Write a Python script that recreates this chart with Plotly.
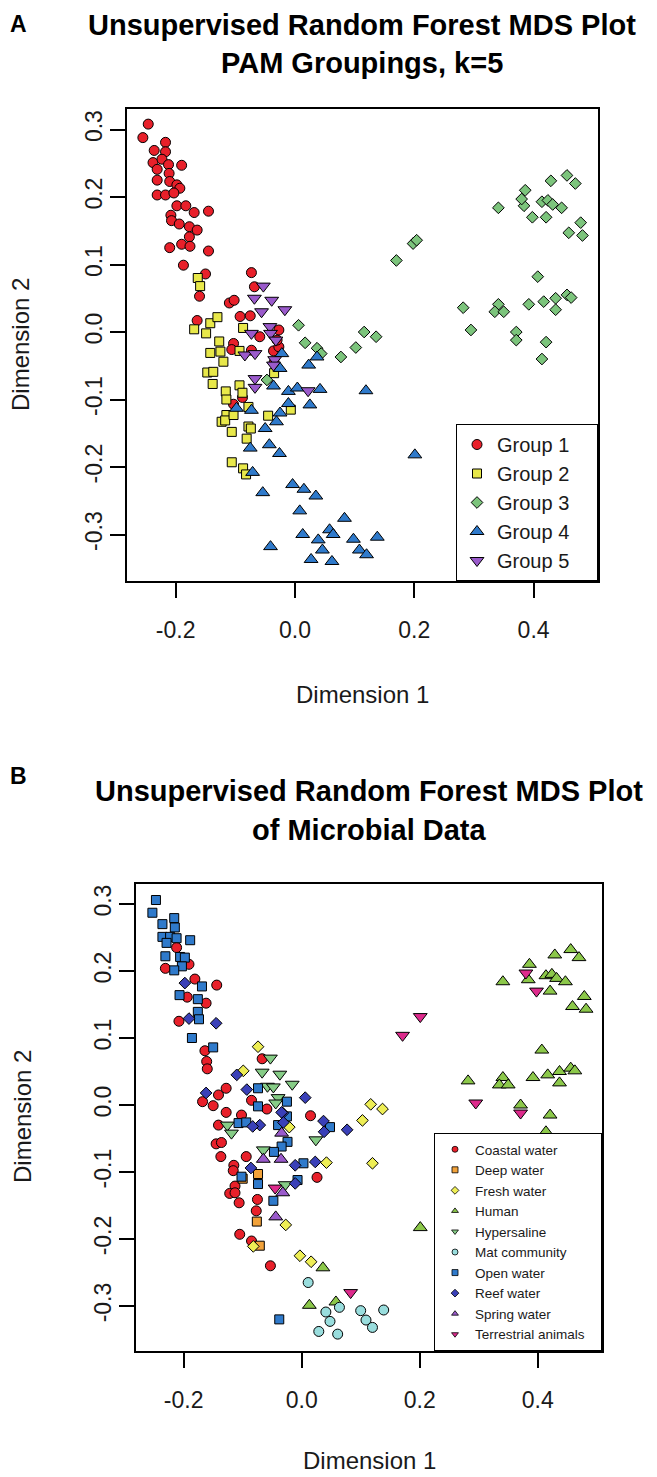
import plotly.graph_objects as go

# ---- panel A : PAM groups (MDS coordinates) ----
g1_x = [-0.246, -0.255, -0.217, -0.236, -0.217, -0.238, -0.223, -0.212, -0.190, -0.231, -0.211, -0.231,
        -0.210, -0.198, -0.193, -0.231, -0.217, -0.203, -0.198, -0.183, -0.169, -0.145, -0.208, -0.207,
        -0.194, -0.177, -0.164, -0.177, -0.190, -0.176, -0.210, -0.145, -0.187, -0.150, -0.160, -0.073,
        -0.068, -0.110, -0.102, -0.164, -0.092, -0.075, -0.027, -0.059, -0.103, -0.106, -0.073, -0.036,
        -0.027, -0.103, -0.088, -0.030, -0.035]
g1_y = [0.308, 0.288, 0.281, 0.269, 0.267, 0.251, 0.256, 0.248, 0.247, 0.241, 0.235, 0.225,
        0.223, 0.218, 0.213, 0.203, 0.203, 0.206, 0.187, 0.187, 0.177, 0.179, 0.173, 0.165,
        0.160, 0.156, 0.151, 0.141, 0.130, 0.127, 0.125, 0.120, 0.099, 0.086, 0.053, 0.088,
        0.067, 0.043, 0.047, 0.017, 0.023, 0.024, 0.003, -0.007, -0.017, -0.026, -0.027, -0.028,
        -0.022, -0.107, -0.097, -0.012, -0.045]

g2_x = [-0.163, -0.159, -0.169, -0.142, -0.130, -0.149, -0.087, -0.127, -0.142, -0.125, -0.120, -0.093,
        -0.147, -0.137, -0.138, -0.116, -0.093, -0.115, -0.088, -0.078, -0.115, -0.123, -0.117, -0.103,
        -0.106, -0.078, -0.074, -0.081, -0.106, -0.087, -0.082, -0.045, -0.035, -0.007]
g2_y = [0.080, 0.068, 0.004, 0.013, 0.022, -0.002, 0.006, -0.014, -0.031, -0.029, -0.044, -0.028,
        -0.060, -0.059, -0.077, -0.088, -0.079, -0.100, -0.090, -0.111, -0.123, -0.133, -0.131, -0.123,
        -0.148, -0.140, -0.143, -0.158, -0.193, -0.202, -0.211, -0.124, -0.061, -0.115]

g3_x = [0.198, 0.204, 0.170, 0.006, 0.017, 0.037, 0.044, 0.077, 0.102, 0.116, 0.136, -0.047,
        0.429, 0.456, 0.470, 0.386, 0.341, 0.384, 0.414, 0.424, 0.432, 0.447, 0.421, 0.479,
        0.459, 0.482, 0.380, 0.398,
        0.407, 0.282, 0.341, 0.335, 0.350, 0.392, 0.417, 0.437, 0.456, 0.463, 0.437, 0.371,
        0.421, 0.414, 0.295, 0.371]
g3_y = [0.131, 0.136, 0.106, 0.010, -0.016, -0.024, -0.032, -0.037, -0.023, 0.000, -0.007, -0.071,
        0.224, 0.232, 0.220, 0.210, 0.184, 0.187, 0.193, 0.195, 0.189, 0.184, 0.170, 0.162,
        0.147, 0.143, 0.197, 0.170,
        0.082, 0.036, 0.041, 0.030, 0.030, 0.041, 0.045, 0.050, 0.055, 0.051, 0.033, 0.000,
        -0.015, -0.040, 0.003, -0.012]

g4_x = [0.023, 0.037, -0.022, -0.025, -0.036, -0.011, 0.004, 0.042, 0.119, 0.025, -0.073, -0.011,
        -0.025, -0.031, -0.050, -0.098, -0.043, -0.026, -0.075, -0.071, -0.004, 0.015, 0.035, -0.054,
        0.008, 0.083, 0.013, 0.058, 0.064, 0.039, 0.098, 0.138, -0.041, 0.046, 0.108, 0.120,
        0.027, 0.062, 0.201]
g4_y = [-0.049, -0.037, -0.032, -0.054, -0.080, -0.088, -0.083, -0.085, -0.087, -0.108, -0.116, -0.106,
        -0.120, -0.133, -0.143, -0.113, -0.167, -0.180, -0.172, -0.208, -0.226, -0.233, -0.243, -0.238,
        -0.265, -0.276, -0.300, -0.293, -0.300, -0.308, -0.307, -0.304, -0.318, -0.323, -0.323, -0.330,
        -0.337, -0.340, -0.182]

g5_x = [-0.053, -0.068, -0.039, -0.017, -0.056, -0.042, -0.073, -0.041, -0.032, -0.084, -0.067, -0.034,
        -0.067, -0.067, -0.036, 0.022]
g5_y = [0.068, 0.050, 0.047, 0.033, 0.030, 0.008, -0.002, -0.002, -0.012, -0.034, -0.032, -0.041,
        -0.069, -0.082, -0.049, -0.087]

# ---- panel B : habitat labels ----
coastal_x = [-0.212, -0.191, -0.231, -0.181, -0.144, -0.194, -0.162, -0.208, -0.164, -0.161, -0.160, -0.067,
             -0.128, -0.141, -0.168, -0.150, -0.085, -0.059, -0.128, -0.102, -0.141, 0.015, -0.145, -0.136,
             -0.137, -0.094, -0.115, -0.116, -0.113, -0.122, -0.113, -0.106, -0.075, -0.077, 0.026, -0.105,
             -0.085, -0.053]
coastal_y = [0.235, 0.210, 0.204, 0.188, 0.179, 0.161, 0.152, 0.125, 0.081, 0.065, 0.054, 0.069,
             0.025, 0.015, 0.005, -0.001, 0.007, -0.006, -0.011, -0.015, -0.030, -0.016, -0.058, -0.056,
             -0.077, -0.077, -0.090, -0.098, -0.121, -0.132, -0.131, -0.146, -0.141, -0.158, -0.108, -0.193,
             -0.203, -0.240]

deep_x = [-0.076, -0.071, -0.074, -0.100]
deep_y = [-0.174, -0.210, -0.103, -0.110]

fresh_x = [-0.074, -0.099, -0.021, 0.117, 0.137, 0.103, 0.120, 0.042, -0.027, -0.082, -0.003, 0.016]
fresh_y = [0.087, 0.051, -0.033, 0.001, -0.006, -0.023, -0.087, -0.086, -0.179, -0.211, -0.225, -0.234]

human_x = [0.429, 0.456, 0.470, 0.386, 0.341, 0.384, 0.414, 0.424, 0.432, 0.447, 0.421, 0.479,
           0.459, 0.482, 0.407, 0.282, 0.341, 0.335, 0.350, 0.392, 0.417, 0.437, 0.456, 0.463,
           0.437, 0.371, 0.421, 0.414, 0.201, 0.036, 0.013, 0.058]
human_y = [0.224, 0.232, 0.220, 0.210, 0.184, 0.187, 0.193, 0.195, 0.189, 0.184, 0.170, 0.162,
           0.147, 0.143, 0.082, 0.036, 0.041, 0.030, 0.030, 0.041, 0.045, 0.050, 0.055, 0.051,
           0.033, 0.000, -0.015, -0.040, -0.183, -0.243, -0.299, -0.294]

hyper_x = [-0.053, -0.067, -0.037, -0.058, -0.048, -0.016, -0.040, -0.044, -0.126, -0.119, 0.024, -0.065, -0.028]
hyper_y = [0.070, 0.049, 0.046, 0.028, 0.027, 0.031, 0.011, 0.003, -0.030, -0.042, -0.052, -0.067, -0.119]

mat_x = [0.011, 0.041, 0.064, 0.048, 0.029, 0.061, 0.100, 0.109, 0.120, 0.139]
mat_y = [-0.265, -0.309, -0.302, -0.323, -0.338, -0.342, -0.307, -0.321, -0.332, -0.306]

open_x = [-0.247, -0.253, -0.236, -0.216, -0.215, -0.236, -0.223, -0.212, -0.229, -0.189, -0.231, -0.206,
          -0.198, -0.203, -0.216, -0.169, -0.207, -0.176, -0.176, -0.174, -0.186, -0.150, -0.074, -0.025,
          -0.074, -0.107, -0.040, -0.025, 0.048, -0.094, -0.024, -0.034, -0.047, 0.003, -0.102, -0.074,
          -0.048, -0.007, -0.038]
open_y = [0.306, 0.287, 0.270, 0.279, 0.265, 0.251, 0.251, 0.249, 0.242, 0.246, 0.222, 0.221,
          0.220, 0.207, 0.201, 0.177, 0.164, 0.158, 0.139, 0.128, 0.100, 0.086, 0.025, 0.005,
          -0.002, -0.027, -0.030, -0.017, -0.033, -0.026, -0.055, -0.062, -0.070, -0.087, -0.107, -0.118,
          -0.143, -0.112, -0.320]

reef_x = [-0.198, -0.191, -0.145, -0.110, -0.093, -0.162, 0.006, -0.032, -0.071, 0.037, -0.083, -0.034,
          -0.031, 0.038, 0.077, -0.011, 0.023, -0.086, -0.011]
reef_y = [0.182, 0.129, 0.122, 0.045, 0.023, 0.018, 0.011, -0.012, -0.030, -0.024, -0.032, -0.011,
          -0.026, -0.040, -0.037, -0.090, -0.085, -0.094, -0.117]

spring_x = [-0.065, -0.035, -0.034, -0.032, -0.044]
spring_y = [-0.081, -0.081, -0.042, -0.131, -0.167]

terr_x = [0.201, 0.171, 0.295, 0.380, 0.398, 0.371, 0.083, -0.045]
terr_y = [0.132, 0.104, 0.003, 0.197, 0.170, -0.012, -0.280, -0.124]

W, H = 657, 1477
OFF = 8   # the page body adds an 8px margin, so positions are shifted back by that
BLACK = "#000000"
TXT = "#1a1a1a"

def px(x):
    return (x - OFF) / W

def py(y):
    return 1 - (y - OFF) / H

fig = go.Figure()

panel_a = [
    ("Group 1", g1_x, g1_y, "circle", "#E8202A", 10),
    ("Group 2", g2_x, g2_y, "square", "#E8E84A", 9),
    ("Group 3", g3_x, g3_y, "diamond", "#7CC47C", 9),
    ("Group 4", g4_x, g4_y, "triangle-up", "#2F7ACB", 12),
    ("Group 5", g5_x, g5_y, "triangle-down", "#9A5ACB", 12),
]
for name, xs, ys, sym, col, sz in panel_a:
    fig.add_trace(go.Scatter(
        x=xs, y=ys, mode="markers", name=name + "\u00a0" * 4, xaxis="x", yaxis="y", legend="legend",
        marker=dict(symbol=sym, color=col, size=sz, line=dict(color=BLACK, width=1))))

panel_b = [
    ("Coastal water", coastal_x, coastal_y, "circle", "#E8202A", 10),
    ("Deep water", deep_x, deep_y, "square", "#F2A23A", 9),
    ("Fresh water", fresh_x, fresh_y, "diamond", "#EEEE55", 9),
    ("Human", human_x, human_y, "triangle-up", "#8CC84A", 12),
    ("Hypersaline", hyper_x, hyper_y, "triangle-down", "#86CC86", 12),
    ("Mat community", mat_x, mat_y, "circle", "#99DDDD", 10),
    ("Open water", open_x, open_y, "square", "#2F7ACB", 9),
    ("Reef water", reef_x, reef_y, "diamond", "#3A40B8", 9),
    ("Spring water", spring_x, spring_y, "triangle-up", "#9A5ACB", 12),
    ("Terrestrial animals", terr_x, terr_y, "triangle-down", "#DD2A8C", 12),
]
for name, xs, ys, sym, col, sz in panel_b:
    fig.add_trace(go.Scatter(
        x=xs, y=ys, mode="markers", name=name, xaxis="x2", yaxis="y2", showlegend=False,
        marker=dict(symbol=sym, color=col, size=sz, line=dict(color=BLACK, width=1))))
# small legend keys for panel B
for name, xs, ys, sym, col, sz in panel_b:
    fig.add_trace(go.Scatter(
        x=[None], y=[None], mode="markers", name=name + "\u00a0" * 3, xaxis="x2", yaxis="y2",
        legend="legend2",
        marker=dict(symbol=sym, color=col, size=6, line=dict(color=BLACK, width=0.8))))

xticks = [-0.2, 0.0, 0.2, 0.4]
xtick_text = ["-0.2", "0.0", "0.2", "0.4"]
yticks = [-0.3, -0.2, -0.1, 0.0, 0.1, 0.2, 0.3]
ytick_text = ["-0.3", "-0.2", "-0.1", "0.0", "0.1", "0.2", "0.3"]

axis_common = dict(showgrid=False, zeroline=False, showline=True, mirror=True, linecolor=BLACK,
                   linewidth=1.5, ticks="outside", ticklen=15, tickwidth=1.5, tickcolor=BLACK,
                   tickfont=dict(family="Liberation Sans", size=23, color=TXT))

fig.update_layout(
    width=W, height=H, margin=dict(l=0, r=0, t=0, b=0),
    paper_bgcolor="white", plot_bgcolor="white",
    xaxis=dict(domain=[px(127), px(598)], range=[-0.2816, 0.508], anchor="y",
               tickvals=xticks, ticktext=xtick_text, ticklabelstandoff=13, **axis_common),
    yaxis=dict(domain=[py(581), py(109)], range=[-0.3689, 0.3304], anchor="x",
               tickvals=yticks, ticktext=ytick_text, tickangle=-90, ticklabelstandoff=-1, **axis_common),
    xaxis2=dict(domain=[px(136), px(602)], range=[-0.2808, 0.509], anchor="y2",
                tickvals=xticks, ticktext=xtick_text, ticklabelstandoff=13, **axis_common),
    yaxis2=dict(domain=[py(1351), py(884)], range=[-0.3672, 0.3299], anchor="x2",
                tickvals=yticks, ticktext=ytick_text, tickangle=-90, ticklabelstandoff=-1, **axis_common),
    legend=dict(x=px(598), y=py(581), xanchor="right", yanchor="bottom",
                bordercolor=BLACK, borderwidth=1, bgcolor="white",
                font=dict(family="Liberation Sans", size=20, color=TXT), tracegroupgap=0),
    legend2=dict(x=px(602), y=py(1351), xanchor="right", yanchor="bottom",
                 bordercolor=BLACK, borderwidth=1, bgcolor="white",
                 font=dict(family="Liberation Sans", size=13.5, color=TXT), tracegroupgap=0),
)

title_font = dict(family="Liberation Sans", size=29, color=BLACK)
tag_font = dict(family="Liberation Sans", size=23, color=BLACK)
label_font = dict(family="Liberation Sans", size=24, color=TXT)
annots = [
    ("<b>A</b>", 18, 24, tag_font, 0),
    ("<b>Unsupervised Random Forest MDS Plot</b>", 362, 25, title_font, 0),
    ("<b>PAM Groupings, k=5</b>", 362, 63, title_font, 0),
    ("Dimension 1", 362, 695, label_font, 0),
    ("Dimension 2", 20, 345, label_font, -90),
    ("<b>B</b>", 18, 776, tag_font, 0),
    ("<b>Unsupervised Random Forest MDS Plot</b>", 369, 791, title_font, 0),
    ("<b>of Microbial Data</b>", 369, 830, title_font, 0),
    ("Dimension 1", 369, 1460, label_font, 0),
    ("Dimension 2", 22, 1117, label_font, -90),
]
for text, x, y, font, ang in annots:
    fig.add_annotation(text=text, x=px(x), y=py(y), xref="paper", yref="paper",
                       showarrow=False, font=font, textangle=ang,
                       xanchor="center", yanchor="middle")

fig.write_html("out.html")
